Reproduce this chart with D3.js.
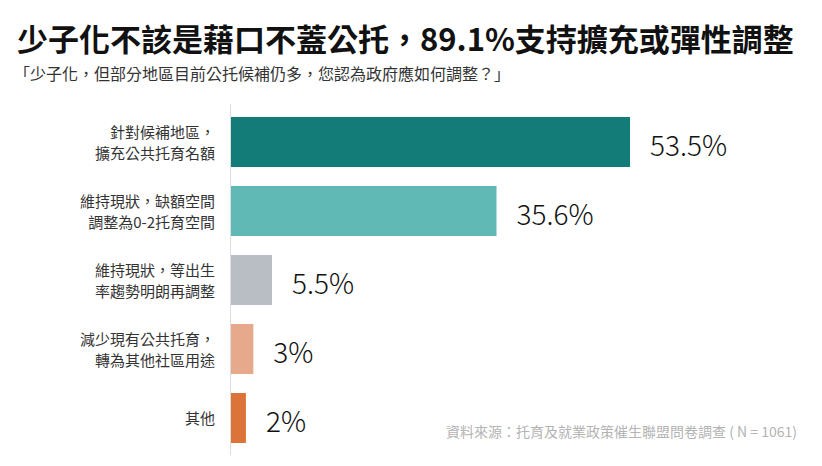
<!DOCTYPE html>
<html>
<head>
<meta charset="utf-8">
<script src="https://cdn.jsdelivr.net/npm/d3@7"></script>
<style>
html,body{margin:0;padding:0;background:#fff;}
svg{display:block;}
text{font-family:"Noto Sans CJK TC","Noto Sans",sans-serif;}
</style>
</head>
<body>
<svg id="chart" width="822" height="466"></svg>
<script>
const title = "少子化不該是藉口不蓋公托，89.1%支持擴充或彈性調整";
const subtitle = "「少子化，但部分地區目前公托候補仍多，您認為政府應如何調整？」";
const source = "資料來源：托育及就業政策催生聯盟問卷調查 ( N = 1061)";
const categories = [
  "針對候補地區，\n擴充公共托育名額",
  "維持現狀，缺額空間\n調整為0-2托育空間",
  "維持現狀，等出生\n率趨勢明朗再調整",
  "減少現有公共托育，\n轉為其他社區用途",
  "其他"
];
const values = [53.5, 35.6, 5.5, 3, 2];
const valueLabels = ["53.5%", "35.6%", "5.5%", "3%", "2%"];
const colors = ["#137b78", "#60b9b5", "#b9bdc4", "#e6a98b", "#dc7339"];

const svg = d3.select("#chart");

svg.append("text").attr("x", 17).attr("y", 51)
  .attr("font-size", 31).attr("font-weight", 700).attr("fill", "#111")
  .text(title);
svg.append("text").attr("x", 14).attr("y", 80)
  .attr("font-size", 16).attr("fill", "#333")
  .text(subtitle);

const x = d3.scaleLinear().domain([0, 100]).range([231, 231 + 745.8]);
const y = d3.scaleBand().domain(categories).range([107.5, 452.5])
  .paddingInner(0.275).paddingOuter(0.1375);

// axis line
svg.append("line").attr("x1", 230.5).attr("x2", 230.5)
  .attr("y1", 104).attr("y2", 455)
  .attr("stroke", "#dddddd").attr("stroke-width", 1);

svg.append("g").selectAll("rect").data(values).join("rect")
  .attr("x", x(0))
  .attr("y", (d, i) => y(categories[i]))
  .attr("width", d => x(d) - x(0))
  .attr("height", y.bandwidth())
  .attr("fill", (d, i) => colors[i]);

svg.append("g").selectAll("text").data(values).join("text")
  .attr("x", d => x(d) + 20)
  .attr("y", (d, i) => y(categories[i]) + y.bandwidth() / 2 + 14)
  .attr("font-size", 28).attr("fill", "#111")
  .attr("font-family", "'Noto Sans','Open Sans',sans-serif")
  .attr("font-weight", 300)
  .text((d, i) => valueLabels[i]);

const lab = svg.append("g").selectAll("text").data(categories).join("text")
  .attr("text-anchor", "end").attr("font-size", 15).attr("fill", "#333");
lab.each(function(d) {
  const lines = d.split("\n");
  const cy = y(d) + y.bandwidth() / 2;
  const t = d3.select(this);
  lines.forEach((ln, i) => {
    t.append("tspan").attr("x", 215)
      .attr("y", cy + 6 + (i - (lines.length - 1) / 2) * 21)
      .text(ln);
  });
});

svg.append("text").attr("x", 797).attr("y", 437)
  .attr("text-anchor", "end").attr("font-size", 14).attr("fill", "#b3b3b3")
  .text(source);
</script>
</body>
</html>
